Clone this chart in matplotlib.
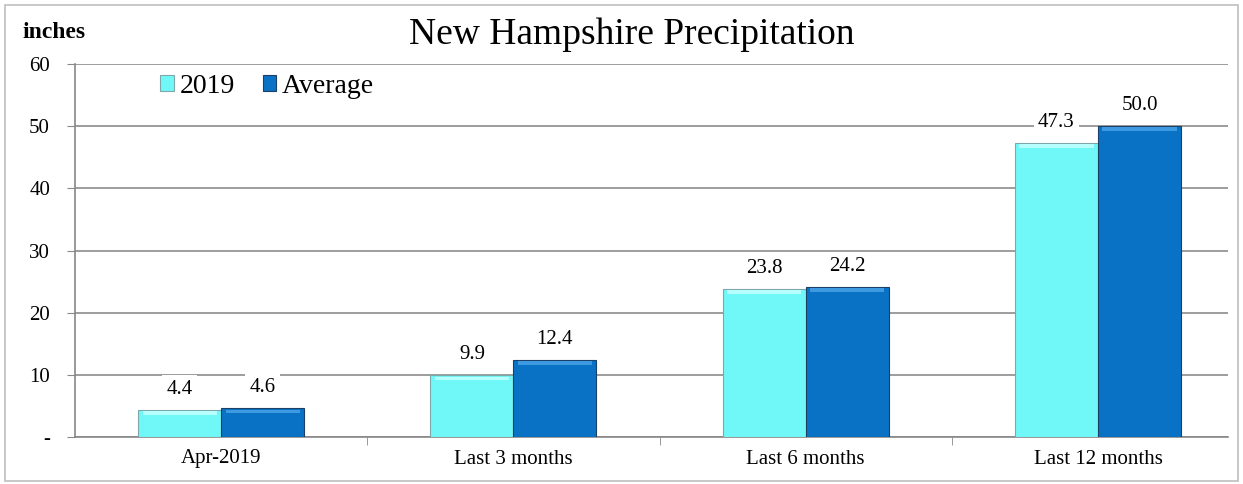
import matplotlib
matplotlib.use('Agg')
import matplotlib.pyplot as plt
import numpy as np
from matplotlib.patches import Rectangle

categories = ['Apr-2019', 'Last 3 months', 'Last 6 months', 'Last 12 months']
vals_2019 = [4.4, 9.9, 23.8, 47.3]
vals_avg = [4.6, 12.4, 24.2, 50.0]
yticks = [0, 10, 20, 30, 40, 50, 60]
ytick_labels = ['-', '10', '20', '30', '40', '50', '60']

plt.rcParams['font.family'] = ['Liberation Serif', 'DejaVu Serif']

W, H = 1243, 484
fig = plt.figure(figsize=(W / 100, H / 100), dpi=100)
fig.patch.set_facecolor('white')
# outer frame
fig.add_artist(Rectangle((5 / W, 3 / H), 1233 / W, 476 / H, transform=fig.transFigure,
                         fill=False, edgecolor='#bfbfbf', lw=1.2))

ax = fig.add_axes([75 / W, (H - 437) / H, (1228 - 75) / W, (437 - 64) / H])
x = np.arange(len(categories))
bw = 0.284
c19, cav = '#70F8F8', '#0A72C4'
b1 = ax.bar(x - bw / 2, vals_2019, bw, color=c19, edgecolor='#7fa6a8', lw=0.8, zorder=3, label='2019')
b2 = ax.bar(x + bw / 2, vals_avg, bw, color=cav, edgecolor='#1b3f66', lw=0.8, zorder=3, label='Average')

# light bevel on bar tops
for bars, hc in ((b1, '#b6ffff'), (b2, '#3d9ae0')):
    for r in bars:
        h = r.get_height()
        ax.add_patch(Rectangle((r.get_x() + 0.015, h - 0.8), r.get_width() - 0.03, 0.6,
                               facecolor=hc, edgecolor='none', zorder=4))

for bars, vals in ((b1, vals_2019), (b2, vals_avg)):
    for r, v in zip(bars, vals):
        ax.text(r.get_x() + r.get_width() / 2, v + 3.3, f'{v:.1f}', ha='center', va='center',
                fontsize=15, zorder=5,
                bbox=dict(facecolor='white', edgecolor='none', pad=3))

ax.set_xlim(-0.5, 3.445)
ax.set_ylim(0, 60)
ax.set_yticks(yticks)
ax.set_yticklabels(ytick_labels, fontsize=15)
ax.set_xticks(x)
ax.set_xticklabels(categories, fontsize=15)
ax.set_xticks([0.5, 1.5, 2.5], minor=True)
ax.tick_params(axis='x', which='major', length=0, pad=9)
ax.tick_params(axis='x', which='minor', length=6, color='#888888')
ax.tick_params(axis='y', length=6, color='#888888', pad=12)
ax.grid(axis='y', color='#8c8c8c', lw=1.2, zorder=0)
for s in ('top', 'right'):
    ax.spines[s].set_visible(False)
ax.spines['left'].set_color('#888888')
ax.spines['bottom'].set_color('#888888')
ax.spines['left'].set_linewidth(1.2)
ax.spines['bottom'].set_linewidth(1.2)

leg = ax.legend(loc='upper left', bbox_to_anchor=(0.052, 1.04), ncol=2, frameon=False,
                fontsize=20, handlelength=0.5, handleheight=0.5, handletextpad=0.2,
                columnspacing=1.0)

fig.text(632 / W, 1 - 35 / H, 'New Hampshire Precipitation', ha='center', va='center', fontsize=27)
fig.text(22 / W, 1 - 32 / H, 'inches', ha='left', va='center', fontsize=17, fontweight='bold')

fig.savefig('out.png', dpi=100)
